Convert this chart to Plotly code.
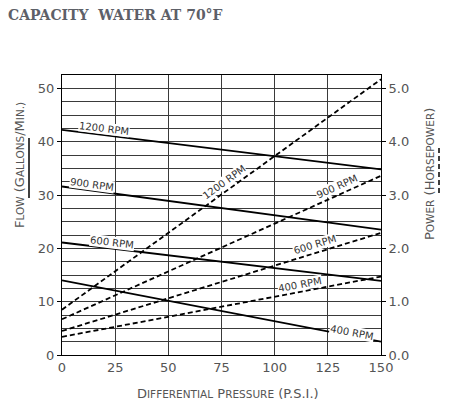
import math
import plotly.graph_objects as go

# ---------------- data ----------------
pressure_psi = [0, 150]

flow_1200 = [42.2, 34.8]
flow_900 = [31.6, 23.5]
flow_600 = [21.1, 13.9]
flow_400 = [14.0, 2.5]

hp_1200 = [0.85, 5.17]
hp_900 = [0.67, 3.36]
hp_600 = [0.45, 2.29]
hp_400 = [0.34, 1.47]

rpm_names = ["1200 RPM", "900 RPM", "600 RPM", "400 RPM"]
flow_series = [flow_1200, flow_900, flow_600, flow_400]
hp_series = [hp_1200, hp_900, hp_600, hp_400]

# label anchor points (psi, value)
flow_label_at = [(19.7, 42.5), (14.1, 32.0), (23.5, 21.05), (136.4, 4.3)]
hp_label_at = [(76.0, 3.24), (129.3, 3.16), (119.0, 2.07), (112.0, 1.32)]

x_ticks = [0, 25, 50, 75, 100, 125, 150]
flow_range = [0, 52.5]
hp_range = [0, 5.25]

# ---------------- layout geometry ----------------
W, H = 451, 409
ML, MR, MT, MB = 62, 70, 75, 54
PW, PH = W - ML - MR, H - MT - MB
px_x = PW / (x_ticks[-1] - x_ticks[0])
px_flow = PH / (flow_range[1] - flow_range[0])
px_hp = PH / (hp_range[1] - hp_range[0])

TXT = "#555555"
LBL = "#333333"
GRID = "#3a3a3a"

fig = go.Figure()

for name, ys in zip(rpm_names, flow_series):
    fig.add_trace(go.Scatter(x=pressure_psi, y=ys, mode="lines", name=name + " flow",
                             line=dict(color="black", width=1.8), yaxis="y",
                             showlegend=False, hoverinfo="skip"))
for name, ys in zip(rpm_names, hp_series):
    fig.add_trace(go.Scatter(x=pressure_psi, y=ys, mode="lines", name=name + " hp",
                             line=dict(color="black", width=1.8, dash="5px,3px"), yaxis="y2",
                             showlegend=False, hoverinfo="skip"))


def angle(xs, ys, pxy):
    dx = (xs[1] - xs[0]) * px_x
    dy = (ys[1] - ys[0]) * pxy
    return -math.degrees(math.atan2(dy, dx))


annotations = []
for name, ys, (lx, ly) in zip(rpm_names, flow_series, flow_label_at):
    annotations.append(dict(x=lx, y=ly, xref="x", yref="y", text=name, showarrow=False,
                            textangle=angle(pressure_psi, ys, px_flow),
                            font=dict(family="DejaVu Sans", size=10, color=LBL),
                            bgcolor="white", borderpad=0, xanchor="center", yanchor="middle"))
for name, ys, (lx, ly) in zip(rpm_names, hp_series, hp_label_at):
    annotations.append(dict(x=lx, y=ly, xref="x", yref="y2", text=name, showarrow=False,
                            textangle=angle(pressure_psi, ys, px_hp),
                            font=dict(family="DejaVu Sans", size=10, color=LBL),
                            bgcolor="white", borderpad=0, xanchor="center", yanchor="middle"))


def smallcaps(parts):
    out = ""
    for big, small in parts:
        out += big
        if small:
            out += '<span style="font-size:10.5px">' + small + "</span>"
    return out


left_title = smallcaps([("F", "LOW"), (" (G", "ALLONS"), ("/M", "IN.)")])
right_title = smallcaps([("P", "OWER"), (" (H", "ORSEPOWER"), (")", "")])
bottom_title = smallcaps([("D", "IFFERENTIAL"), (" P", "RESSURE"), (" (P.S.I.)", "")])

annotations.append(dict(x=(19 - ML) / PW, y=(H - MB - 165) / PH, xref="paper", yref="paper",
                        text=left_title, textangle=-90, showarrow=False,
                        xanchor="center", yanchor="middle",
                        font=dict(family="DejaVu Sans", size=13, color=TXT)))
annotations.append(dict(x=(429 - ML) / PW, y=(H - MB - 174) / PH, xref="paper", yref="paper",
                        text=right_title, textangle=-90, showarrow=False,
                        xanchor="center", yanchor="middle",
                        font=dict(family="DejaVu Sans", size=13, color=TXT)))
annotations.append(dict(x=(228 - ML) / PW, y=(H - MB - 393) / PH, xref="paper", yref="paper",
                        text=bottom_title, showarrow=False,
                        xanchor="center", yanchor="middle",
                        font=dict(family="DejaVu Sans", size=13, color=TXT)))

shapes = [
    dict(type="line", xref="paper", yref="paper",
         x0=(29 - ML) / PW, x1=(29 - ML) / PW,
         y0=(H - MB - 198) / PH, y1=(H - MB - 138) / PH,
         line=dict(color="black", width=1.5)),
    dict(type="line", xref="paper", yref="paper",
         x0=(439 - ML) / PW, x1=(439 - ML) / PW,
         y0=(H - MB - 193) / PH, y1=(H - MB - 145) / PH,
         line=dict(color="black", width=1.5, dash="5px,3px")),
]

tickfont = dict(family="DejaVu Sans", size=13, color=TXT)

fig.update_layout(
    width=W, height=H,
    margin=dict(l=ML, r=MR, t=MT, b=MB),
    paper_bgcolor="white", plot_bgcolor="white",
    title=dict(text="CAPACITY\u00a0 WATER AT 70°F", x=8 / W, xanchor="left",
               y=1 - 15 / H, yanchor="middle",
               font=dict(family="DejaVu Serif", size=14, color="#5d6068", weight="bold")),
    xaxis=dict(range=[x_ticks[0], x_ticks[-1]], tickvals=x_ticks, showgrid=True,
               gridcolor=GRID, gridwidth=1, showline=True, mirror=True, linecolor="black",
               linewidth=1, zeroline=False, ticks="", tickfont=tickfont),
    yaxis=dict(range=flow_range, dtick=10, tick0=0, showgrid=True, gridcolor=GRID, gridwidth=1,
               minor=dict(dtick=2.5, showgrid=True, gridcolor=GRID, gridwidth=1),
               showline=True, mirror=True, linecolor="black", linewidth=1, zeroline=False,
               ticks="outside", ticklen=4, tickcolor="black", tickfont=tickfont),
    yaxis2=dict(range=hp_range, dtick=1, tick0=0, tickformat=".1f", overlaying="y", side="right",
                showgrid=False, zeroline=False, showline=True, linecolor="black", linewidth=1,
                ticks="outside", ticklen=4, tickcolor="black", tickfont=tickfont),
    annotations=annotations,
    shapes=shapes,
    showlegend=False,
)

fig.write_html("out.html")
